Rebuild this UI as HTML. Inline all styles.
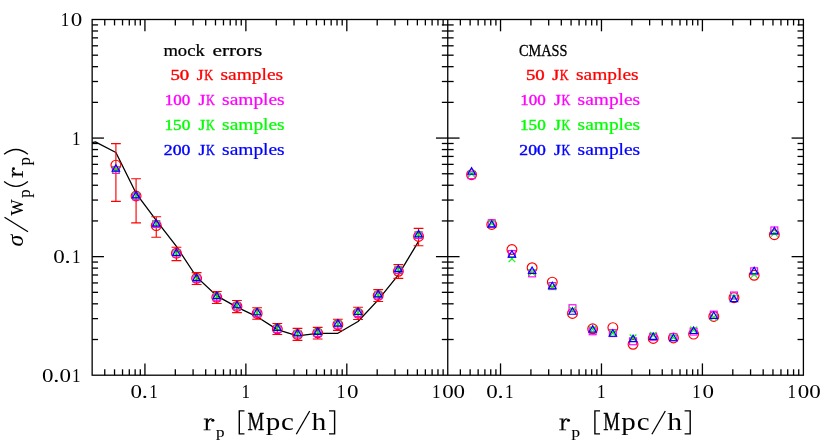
<!DOCTYPE html>
<html><head><meta charset="utf-8"><title>chart</title>
<style>html,body{margin:0;padding:0;background:#fff;}body{width:830px;height:443px;overflow:hidden;position:relative;font-family:"Liberation Serif",serif;}</style></head>
<body>
<svg width="830" height="443" viewBox="0 0 830 443" style="position:absolute;left:0;top:0;will-change:transform">
<rect width="830" height="443" fill="#fff"/>
<g stroke="#000" stroke-width="1.3" fill="none" stroke-linecap="butt">
<rect x="92.15" y="19.5" width="711.25" height="355.70"/>
<line x1="447.75" y1="19.5" x2="447.75" y2="375.2"/>
<line x1="104.76" y1="375.2" x2="104.76" y2="369.30"/>
<line x1="104.76" y1="19.5" x2="104.76" y2="25.40"/>
<line x1="114.54" y1="375.2" x2="114.54" y2="369.30"/>
<line x1="114.54" y1="19.5" x2="114.54" y2="25.40"/>
<line x1="122.54" y1="375.2" x2="122.54" y2="369.30"/>
<line x1="122.54" y1="19.5" x2="122.54" y2="25.40"/>
<line x1="129.29" y1="375.2" x2="129.29" y2="369.30"/>
<line x1="129.29" y1="19.5" x2="129.29" y2="25.40"/>
<line x1="135.15" y1="375.2" x2="135.15" y2="369.30"/>
<line x1="135.15" y1="19.5" x2="135.15" y2="25.40"/>
<line x1="140.31" y1="375.2" x2="140.31" y2="369.30"/>
<line x1="140.31" y1="19.5" x2="140.31" y2="25.40"/>
<line x1="144.93" y1="375.2" x2="144.93" y2="363.40"/>
<line x1="144.93" y1="19.5" x2="144.93" y2="31.30"/>
<line x1="175.32" y1="375.2" x2="175.32" y2="369.30"/>
<line x1="175.32" y1="19.5" x2="175.32" y2="25.40"/>
<line x1="193.09" y1="375.2" x2="193.09" y2="369.30"/>
<line x1="193.09" y1="19.5" x2="193.09" y2="25.40"/>
<line x1="205.70" y1="375.2" x2="205.70" y2="369.30"/>
<line x1="205.70" y1="19.5" x2="205.70" y2="25.40"/>
<line x1="215.48" y1="375.2" x2="215.48" y2="369.30"/>
<line x1="215.48" y1="19.5" x2="215.48" y2="25.40"/>
<line x1="223.48" y1="375.2" x2="223.48" y2="369.30"/>
<line x1="223.48" y1="19.5" x2="223.48" y2="25.40"/>
<line x1="230.23" y1="375.2" x2="230.23" y2="369.30"/>
<line x1="230.23" y1="19.5" x2="230.23" y2="25.40"/>
<line x1="236.09" y1="375.2" x2="236.09" y2="369.30"/>
<line x1="236.09" y1="19.5" x2="236.09" y2="25.40"/>
<line x1="241.25" y1="375.2" x2="241.25" y2="369.30"/>
<line x1="241.25" y1="19.5" x2="241.25" y2="25.40"/>
<line x1="245.87" y1="375.2" x2="245.87" y2="363.40"/>
<line x1="245.87" y1="19.5" x2="245.87" y2="31.30"/>
<line x1="276.26" y1="375.2" x2="276.26" y2="369.30"/>
<line x1="276.26" y1="19.5" x2="276.26" y2="25.40"/>
<line x1="294.03" y1="375.2" x2="294.03" y2="369.30"/>
<line x1="294.03" y1="19.5" x2="294.03" y2="25.40"/>
<line x1="306.64" y1="375.2" x2="306.64" y2="369.30"/>
<line x1="306.64" y1="19.5" x2="306.64" y2="25.40"/>
<line x1="316.42" y1="375.2" x2="316.42" y2="369.30"/>
<line x1="316.42" y1="19.5" x2="316.42" y2="25.40"/>
<line x1="324.42" y1="375.2" x2="324.42" y2="369.30"/>
<line x1="324.42" y1="19.5" x2="324.42" y2="25.40"/>
<line x1="331.17" y1="375.2" x2="331.17" y2="369.30"/>
<line x1="331.17" y1="19.5" x2="331.17" y2="25.40"/>
<line x1="337.03" y1="375.2" x2="337.03" y2="369.30"/>
<line x1="337.03" y1="19.5" x2="337.03" y2="25.40"/>
<line x1="342.19" y1="375.2" x2="342.19" y2="369.30"/>
<line x1="342.19" y1="19.5" x2="342.19" y2="25.40"/>
<line x1="346.81" y1="375.2" x2="346.81" y2="363.40"/>
<line x1="346.81" y1="19.5" x2="346.81" y2="31.30"/>
<line x1="377.20" y1="375.2" x2="377.20" y2="369.30"/>
<line x1="377.20" y1="19.5" x2="377.20" y2="25.40"/>
<line x1="394.97" y1="375.2" x2="394.97" y2="369.30"/>
<line x1="394.97" y1="19.5" x2="394.97" y2="25.40"/>
<line x1="407.58" y1="375.2" x2="407.58" y2="369.30"/>
<line x1="407.58" y1="19.5" x2="407.58" y2="25.40"/>
<line x1="417.36" y1="375.2" x2="417.36" y2="369.30"/>
<line x1="417.36" y1="19.5" x2="417.36" y2="25.40"/>
<line x1="425.36" y1="375.2" x2="425.36" y2="369.30"/>
<line x1="425.36" y1="19.5" x2="425.36" y2="25.40"/>
<line x1="432.11" y1="375.2" x2="432.11" y2="369.30"/>
<line x1="432.11" y1="19.5" x2="432.11" y2="25.40"/>
<line x1="437.97" y1="375.2" x2="437.97" y2="369.30"/>
<line x1="437.97" y1="19.5" x2="437.97" y2="25.40"/>
<line x1="443.13" y1="375.2" x2="443.13" y2="369.30"/>
<line x1="443.13" y1="19.5" x2="443.13" y2="25.40"/>
<line x1="460.36" y1="375.2" x2="460.36" y2="369.30"/>
<line x1="460.36" y1="19.5" x2="460.36" y2="25.40"/>
<line x1="470.14" y1="375.2" x2="470.14" y2="369.30"/>
<line x1="470.14" y1="19.5" x2="470.14" y2="25.40"/>
<line x1="478.14" y1="375.2" x2="478.14" y2="369.30"/>
<line x1="478.14" y1="19.5" x2="478.14" y2="25.40"/>
<line x1="484.89" y1="375.2" x2="484.89" y2="369.30"/>
<line x1="484.89" y1="19.5" x2="484.89" y2="25.40"/>
<line x1="490.75" y1="375.2" x2="490.75" y2="369.30"/>
<line x1="490.75" y1="19.5" x2="490.75" y2="25.40"/>
<line x1="495.91" y1="375.2" x2="495.91" y2="369.30"/>
<line x1="495.91" y1="19.5" x2="495.91" y2="25.40"/>
<line x1="500.53" y1="375.2" x2="500.53" y2="363.40"/>
<line x1="500.53" y1="19.5" x2="500.53" y2="31.30"/>
<line x1="530.92" y1="375.2" x2="530.92" y2="369.30"/>
<line x1="530.92" y1="19.5" x2="530.92" y2="25.40"/>
<line x1="548.69" y1="375.2" x2="548.69" y2="369.30"/>
<line x1="548.69" y1="19.5" x2="548.69" y2="25.40"/>
<line x1="561.30" y1="375.2" x2="561.30" y2="369.30"/>
<line x1="561.30" y1="19.5" x2="561.30" y2="25.40"/>
<line x1="571.08" y1="375.2" x2="571.08" y2="369.30"/>
<line x1="571.08" y1="19.5" x2="571.08" y2="25.40"/>
<line x1="579.08" y1="375.2" x2="579.08" y2="369.30"/>
<line x1="579.08" y1="19.5" x2="579.08" y2="25.40"/>
<line x1="585.83" y1="375.2" x2="585.83" y2="369.30"/>
<line x1="585.83" y1="19.5" x2="585.83" y2="25.40"/>
<line x1="591.69" y1="375.2" x2="591.69" y2="369.30"/>
<line x1="591.69" y1="19.5" x2="591.69" y2="25.40"/>
<line x1="596.85" y1="375.2" x2="596.85" y2="369.30"/>
<line x1="596.85" y1="19.5" x2="596.85" y2="25.40"/>
<line x1="601.47" y1="375.2" x2="601.47" y2="363.40"/>
<line x1="601.47" y1="19.5" x2="601.47" y2="31.30"/>
<line x1="631.86" y1="375.2" x2="631.86" y2="369.30"/>
<line x1="631.86" y1="19.5" x2="631.86" y2="25.40"/>
<line x1="649.63" y1="375.2" x2="649.63" y2="369.30"/>
<line x1="649.63" y1="19.5" x2="649.63" y2="25.40"/>
<line x1="662.24" y1="375.2" x2="662.24" y2="369.30"/>
<line x1="662.24" y1="19.5" x2="662.24" y2="25.40"/>
<line x1="672.02" y1="375.2" x2="672.02" y2="369.30"/>
<line x1="672.02" y1="19.5" x2="672.02" y2="25.40"/>
<line x1="680.02" y1="375.2" x2="680.02" y2="369.30"/>
<line x1="680.02" y1="19.5" x2="680.02" y2="25.40"/>
<line x1="686.77" y1="375.2" x2="686.77" y2="369.30"/>
<line x1="686.77" y1="19.5" x2="686.77" y2="25.40"/>
<line x1="692.63" y1="375.2" x2="692.63" y2="369.30"/>
<line x1="692.63" y1="19.5" x2="692.63" y2="25.40"/>
<line x1="697.79" y1="375.2" x2="697.79" y2="369.30"/>
<line x1="697.79" y1="19.5" x2="697.79" y2="25.40"/>
<line x1="702.41" y1="375.2" x2="702.41" y2="363.40"/>
<line x1="702.41" y1="19.5" x2="702.41" y2="31.30"/>
<line x1="732.80" y1="375.2" x2="732.80" y2="369.30"/>
<line x1="732.80" y1="19.5" x2="732.80" y2="25.40"/>
<line x1="750.57" y1="375.2" x2="750.57" y2="369.30"/>
<line x1="750.57" y1="19.5" x2="750.57" y2="25.40"/>
<line x1="763.18" y1="375.2" x2="763.18" y2="369.30"/>
<line x1="763.18" y1="19.5" x2="763.18" y2="25.40"/>
<line x1="772.96" y1="375.2" x2="772.96" y2="369.30"/>
<line x1="772.96" y1="19.5" x2="772.96" y2="25.40"/>
<line x1="780.96" y1="375.2" x2="780.96" y2="369.30"/>
<line x1="780.96" y1="19.5" x2="780.96" y2="25.40"/>
<line x1="787.71" y1="375.2" x2="787.71" y2="369.30"/>
<line x1="787.71" y1="19.5" x2="787.71" y2="25.40"/>
<line x1="793.57" y1="375.2" x2="793.57" y2="369.30"/>
<line x1="793.57" y1="19.5" x2="793.57" y2="25.40"/>
<line x1="798.73" y1="375.2" x2="798.73" y2="369.30"/>
<line x1="798.73" y1="19.5" x2="798.73" y2="25.40"/>
<line x1="92.15" y1="339.51" x2="98.05" y2="339.51"/>
<line x1="92.15" y1="318.63" x2="98.05" y2="318.63"/>
<line x1="92.15" y1="303.82" x2="98.05" y2="303.82"/>
<line x1="92.15" y1="292.33" x2="98.05" y2="292.33"/>
<line x1="92.15" y1="282.94" x2="98.05" y2="282.94"/>
<line x1="92.15" y1="275.00" x2="98.05" y2="275.00"/>
<line x1="92.15" y1="268.12" x2="98.05" y2="268.12"/>
<line x1="92.15" y1="262.06" x2="98.05" y2="262.06"/>
<line x1="92.15" y1="256.63" x2="103.95" y2="256.63"/>
<line x1="92.15" y1="220.94" x2="98.05" y2="220.94"/>
<line x1="92.15" y1="200.06" x2="98.05" y2="200.06"/>
<line x1="92.15" y1="185.25" x2="98.05" y2="185.25"/>
<line x1="92.15" y1="173.76" x2="98.05" y2="173.76"/>
<line x1="92.15" y1="164.37" x2="98.05" y2="164.37"/>
<line x1="92.15" y1="156.43" x2="98.05" y2="156.43"/>
<line x1="92.15" y1="149.56" x2="98.05" y2="149.56"/>
<line x1="92.15" y1="143.49" x2="98.05" y2="143.49"/>
<line x1="92.15" y1="138.07" x2="103.95" y2="138.07"/>
<line x1="92.15" y1="102.37" x2="98.05" y2="102.37"/>
<line x1="92.15" y1="81.50" x2="98.05" y2="81.50"/>
<line x1="92.15" y1="66.68" x2="98.05" y2="66.68"/>
<line x1="92.15" y1="55.19" x2="98.05" y2="55.19"/>
<line x1="92.15" y1="45.80" x2="98.05" y2="45.80"/>
<line x1="92.15" y1="37.87" x2="98.05" y2="37.87"/>
<line x1="92.15" y1="30.99" x2="98.05" y2="30.99"/>
<line x1="92.15" y1="24.93" x2="98.05" y2="24.93"/>
<line x1="447.75" y1="339.51" x2="441.85" y2="339.51"/>
<line x1="447.75" y1="339.51" x2="453.65" y2="339.51"/>
<line x1="447.75" y1="318.63" x2="441.85" y2="318.63"/>
<line x1="447.75" y1="318.63" x2="453.65" y2="318.63"/>
<line x1="447.75" y1="303.82" x2="441.85" y2="303.82"/>
<line x1="447.75" y1="303.82" x2="453.65" y2="303.82"/>
<line x1="447.75" y1="292.33" x2="441.85" y2="292.33"/>
<line x1="447.75" y1="292.33" x2="453.65" y2="292.33"/>
<line x1="447.75" y1="282.94" x2="441.85" y2="282.94"/>
<line x1="447.75" y1="282.94" x2="453.65" y2="282.94"/>
<line x1="447.75" y1="275.00" x2="441.85" y2="275.00"/>
<line x1="447.75" y1="275.00" x2="453.65" y2="275.00"/>
<line x1="447.75" y1="268.12" x2="441.85" y2="268.12"/>
<line x1="447.75" y1="268.12" x2="453.65" y2="268.12"/>
<line x1="447.75" y1="262.06" x2="441.85" y2="262.06"/>
<line x1="447.75" y1="262.06" x2="453.65" y2="262.06"/>
<line x1="447.75" y1="256.63" x2="435.95" y2="256.63"/>
<line x1="447.75" y1="256.63" x2="459.55" y2="256.63"/>
<line x1="447.75" y1="220.94" x2="441.85" y2="220.94"/>
<line x1="447.75" y1="220.94" x2="453.65" y2="220.94"/>
<line x1="447.75" y1="200.06" x2="441.85" y2="200.06"/>
<line x1="447.75" y1="200.06" x2="453.65" y2="200.06"/>
<line x1="447.75" y1="185.25" x2="441.85" y2="185.25"/>
<line x1="447.75" y1="185.25" x2="453.65" y2="185.25"/>
<line x1="447.75" y1="173.76" x2="441.85" y2="173.76"/>
<line x1="447.75" y1="173.76" x2="453.65" y2="173.76"/>
<line x1="447.75" y1="164.37" x2="441.85" y2="164.37"/>
<line x1="447.75" y1="164.37" x2="453.65" y2="164.37"/>
<line x1="447.75" y1="156.43" x2="441.85" y2="156.43"/>
<line x1="447.75" y1="156.43" x2="453.65" y2="156.43"/>
<line x1="447.75" y1="149.56" x2="441.85" y2="149.56"/>
<line x1="447.75" y1="149.56" x2="453.65" y2="149.56"/>
<line x1="447.75" y1="143.49" x2="441.85" y2="143.49"/>
<line x1="447.75" y1="143.49" x2="453.65" y2="143.49"/>
<line x1="447.75" y1="138.07" x2="435.95" y2="138.07"/>
<line x1="447.75" y1="138.07" x2="459.55" y2="138.07"/>
<line x1="447.75" y1="102.37" x2="441.85" y2="102.37"/>
<line x1="447.75" y1="102.37" x2="453.65" y2="102.37"/>
<line x1="447.75" y1="81.50" x2="441.85" y2="81.50"/>
<line x1="447.75" y1="81.50" x2="453.65" y2="81.50"/>
<line x1="447.75" y1="66.68" x2="441.85" y2="66.68"/>
<line x1="447.75" y1="66.68" x2="453.65" y2="66.68"/>
<line x1="447.75" y1="55.19" x2="441.85" y2="55.19"/>
<line x1="447.75" y1="55.19" x2="453.65" y2="55.19"/>
<line x1="447.75" y1="45.80" x2="441.85" y2="45.80"/>
<line x1="447.75" y1="45.80" x2="453.65" y2="45.80"/>
<line x1="447.75" y1="37.87" x2="441.85" y2="37.87"/>
<line x1="447.75" y1="37.87" x2="453.65" y2="37.87"/>
<line x1="447.75" y1="30.99" x2="441.85" y2="30.99"/>
<line x1="447.75" y1="30.99" x2="453.65" y2="30.99"/>
<line x1="447.75" y1="24.93" x2="441.85" y2="24.93"/>
<line x1="447.75" y1="24.93" x2="453.65" y2="24.93"/>
<line x1="803.4" y1="339.51" x2="797.50" y2="339.51"/>
<line x1="803.4" y1="318.63" x2="797.50" y2="318.63"/>
<line x1="803.4" y1="303.82" x2="797.50" y2="303.82"/>
<line x1="803.4" y1="292.33" x2="797.50" y2="292.33"/>
<line x1="803.4" y1="282.94" x2="797.50" y2="282.94"/>
<line x1="803.4" y1="275.00" x2="797.50" y2="275.00"/>
<line x1="803.4" y1="268.12" x2="797.50" y2="268.12"/>
<line x1="803.4" y1="262.06" x2="797.50" y2="262.06"/>
<line x1="803.4" y1="256.63" x2="791.60" y2="256.63"/>
<line x1="803.4" y1="220.94" x2="797.50" y2="220.94"/>
<line x1="803.4" y1="200.06" x2="797.50" y2="200.06"/>
<line x1="803.4" y1="185.25" x2="797.50" y2="185.25"/>
<line x1="803.4" y1="173.76" x2="797.50" y2="173.76"/>
<line x1="803.4" y1="164.37" x2="797.50" y2="164.37"/>
<line x1="803.4" y1="156.43" x2="797.50" y2="156.43"/>
<line x1="803.4" y1="149.56" x2="797.50" y2="149.56"/>
<line x1="803.4" y1="143.49" x2="797.50" y2="143.49"/>
<line x1="803.4" y1="138.07" x2="791.60" y2="138.07"/>
<line x1="803.4" y1="102.37" x2="797.50" y2="102.37"/>
<line x1="803.4" y1="81.50" x2="797.50" y2="81.50"/>
<line x1="803.4" y1="66.68" x2="797.50" y2="66.68"/>
<line x1="803.4" y1="55.19" x2="797.50" y2="55.19"/>
<line x1="803.4" y1="45.80" x2="797.50" y2="45.80"/>
<line x1="803.4" y1="37.87" x2="797.50" y2="37.87"/>
<line x1="803.4" y1="30.99" x2="797.50" y2="30.99"/>
<line x1="803.4" y1="24.93" x2="797.50" y2="24.93"/>
</g>
<polyline fill="none" stroke="#000" stroke-width="1.3" stroke-linejoin="round" points="92.15,142.70 95.40,141.80 115.90,152.50 136.08,193.30 156.25,220.40 176.43,246.40 196.61,277.00 216.78,295.90 236.96,307.10 257.14,316.80 277.32,329.60 297.49,335.90 317.67,333.40 337.85,333.30 358.02,321.50 378.20,299.90 398.38,274.80 418.55,241.40"/>
<path d="M115.90 143.55L115.90 201.30M111.00 143.55L120.80 143.55M111.00 201.30L120.80 201.30" fill="none" stroke="#f00" stroke-width="1.15"/>
<path d="M136.08 178.70L136.08 222.90M131.18 178.70L140.98 178.70M131.18 222.90L140.98 222.90" fill="none" stroke="#f00" stroke-width="1.15"/>
<path d="M156.25 216.70L156.25 237.20M151.35 216.70L161.15 216.70M151.35 237.20L161.15 237.20" fill="none" stroke="#f00" stroke-width="1.15"/>
<path d="M176.43 247.20L176.43 260.60M171.53 247.20L181.33 247.20M171.53 260.60L181.33 260.60" fill="none" stroke="#f00" stroke-width="1.15"/>
<path d="M196.61 272.60L196.61 284.50M191.71 272.60L201.51 272.60M191.71 284.50L201.51 284.50" fill="none" stroke="#f00" stroke-width="1.15"/>
<path d="M216.78 291.50L216.78 303.50M211.88 291.50L221.69 291.50M211.88 303.50L221.69 303.50" fill="none" stroke="#f00" stroke-width="1.15"/>
<path d="M236.96 300.50L236.96 312.60M232.06 300.50L241.86 300.50M232.06 312.60L241.86 312.60" fill="none" stroke="#f00" stroke-width="1.15"/>
<path d="M257.14 307.70L257.14 319.20M252.24 307.70L262.04 307.70M252.24 319.20L262.04 319.20" fill="none" stroke="#f00" stroke-width="1.15"/>
<path d="M277.32 323.50L277.32 334.50M272.42 323.50L282.22 323.50M272.42 334.50L282.22 334.50" fill="none" stroke="#f00" stroke-width="1.15"/>
<path d="M297.49 328.40L297.49 340.30M292.59 328.40L302.39 328.40M292.59 340.30L302.39 340.30" fill="none" stroke="#f00" stroke-width="1.15"/>
<path d="M317.67 327.40L317.67 339.00M312.77 327.40L322.57 327.40M312.77 339.00L322.57 339.00" fill="none" stroke="#f00" stroke-width="1.15"/>
<path d="M337.85 319.20L337.85 330.30M332.95 319.20L342.75 319.20M332.95 330.30L342.75 330.30" fill="none" stroke="#f00" stroke-width="1.15"/>
<path d="M358.02 307.20L358.02 319.50M353.12 307.20L362.92 307.20M353.12 319.50L362.92 319.50" fill="none" stroke="#f00" stroke-width="1.15"/>
<path d="M378.20 289.60L378.20 301.50M373.30 289.60L383.10 289.60M373.30 301.50L383.10 301.50" fill="none" stroke="#f00" stroke-width="1.15"/>
<path d="M398.38 264.60L398.38 278.40M393.48 264.60L403.28 264.60M393.48 278.40L403.28 278.40" fill="none" stroke="#f00" stroke-width="1.15"/>
<path d="M418.55 228.35L418.55 245.70M413.65 228.35L423.45 228.35M413.65 245.70L423.45 245.70" fill="none" stroke="#f00" stroke-width="1.15"/>
<circle cx="115.90" cy="165.10" r="4.9" fill="none" stroke="#f00" stroke-width="1.15"/>
<circle cx="136.08" cy="196.00" r="4.9" fill="none" stroke="#f00" stroke-width="1.15"/>
<circle cx="156.25" cy="225.60" r="4.9" fill="none" stroke="#f00" stroke-width="1.15"/>
<circle cx="176.43" cy="253.20" r="4.9" fill="none" stroke="#f00" stroke-width="1.15"/>
<circle cx="196.61" cy="278.30" r="4.9" fill="none" stroke="#f00" stroke-width="1.15"/>
<circle cx="216.78" cy="297.30" r="4.9" fill="none" stroke="#f00" stroke-width="1.15"/>
<circle cx="236.96" cy="306.40" r="4.9" fill="none" stroke="#f00" stroke-width="1.15"/>
<circle cx="257.14" cy="313.40" r="4.9" fill="none" stroke="#f00" stroke-width="1.15"/>
<circle cx="277.32" cy="329.00" r="4.9" fill="none" stroke="#f00" stroke-width="1.15"/>
<circle cx="297.49" cy="334.40" r="4.9" fill="none" stroke="#f00" stroke-width="1.15"/>
<circle cx="317.67" cy="333.00" r="4.9" fill="none" stroke="#f00" stroke-width="1.15"/>
<circle cx="337.85" cy="324.70" r="4.9" fill="none" stroke="#f00" stroke-width="1.15"/>
<circle cx="358.02" cy="313.10" r="4.9" fill="none" stroke="#f00" stroke-width="1.15"/>
<circle cx="378.20" cy="295.50" r="4.9" fill="none" stroke="#f00" stroke-width="1.15"/>
<circle cx="398.38" cy="271.30" r="4.9" fill="none" stroke="#f00" stroke-width="1.15"/>
<circle cx="418.55" cy="236.40" r="4.9" fill="none" stroke="#f00" stroke-width="1.15"/>
<rect x="112.45" y="166.45" width="6.90" height="6.90" fill="none" stroke="#f0f" stroke-width="1.15"/>
<rect x="132.63" y="192.85" width="6.90" height="6.90" fill="none" stroke="#f0f" stroke-width="1.15"/>
<rect x="152.80" y="220.55" width="6.90" height="6.90" fill="none" stroke="#f0f" stroke-width="1.15"/>
<rect x="172.98" y="250.05" width="6.90" height="6.90" fill="none" stroke="#f0f" stroke-width="1.15"/>
<rect x="193.16" y="275.15" width="6.90" height="6.90" fill="none" stroke="#f0f" stroke-width="1.15"/>
<rect x="213.34" y="293.85" width="6.90" height="6.90" fill="none" stroke="#f0f" stroke-width="1.15"/>
<rect x="233.51" y="302.95" width="6.90" height="6.90" fill="none" stroke="#f0f" stroke-width="1.15"/>
<rect x="253.69" y="309.95" width="6.90" height="6.90" fill="none" stroke="#f0f" stroke-width="1.15"/>
<rect x="273.87" y="325.55" width="6.90" height="6.90" fill="none" stroke="#f0f" stroke-width="1.15"/>
<rect x="294.04" y="330.95" width="6.90" height="6.90" fill="none" stroke="#f0f" stroke-width="1.15"/>
<rect x="314.22" y="329.55" width="6.90" height="6.90" fill="none" stroke="#f0f" stroke-width="1.15"/>
<rect x="334.40" y="321.25" width="6.90" height="6.90" fill="none" stroke="#f0f" stroke-width="1.15"/>
<rect x="354.57" y="309.65" width="6.90" height="6.90" fill="none" stroke="#f0f" stroke-width="1.15"/>
<rect x="374.75" y="292.05" width="6.90" height="6.90" fill="none" stroke="#f0f" stroke-width="1.15"/>
<rect x="394.93" y="266.65" width="6.90" height="6.90" fill="none" stroke="#f0f" stroke-width="1.15"/>
<rect x="415.10" y="231.55" width="6.90" height="6.90" fill="none" stroke="#f0f" stroke-width="1.15"/>
<path d="M112.55 166.25L119.25 172.95M112.55 172.95L119.25 166.25" fill="none" stroke="#0f0" stroke-width="1.15"/>
<path d="M132.73 192.65L139.43 199.35M132.73 199.35L139.43 192.65" fill="none" stroke="#0f0" stroke-width="1.15"/>
<path d="M152.90 220.45L159.60 227.15M152.90 227.15L159.60 220.45" fill="none" stroke="#0f0" stroke-width="1.15"/>
<path d="M173.08 249.85L179.78 256.55M173.08 256.55L179.78 249.85" fill="none" stroke="#0f0" stroke-width="1.15"/>
<path d="M193.26 274.95L199.96 281.65M193.26 281.65L199.96 274.95" fill="none" stroke="#0f0" stroke-width="1.15"/>
<path d="M213.44 293.25L220.13 299.95M213.44 299.95L220.13 293.25" fill="none" stroke="#0f0" stroke-width="1.15"/>
<path d="M233.61 302.35L240.31 309.05M233.61 309.05L240.31 302.35" fill="none" stroke="#0f0" stroke-width="1.15"/>
<path d="M253.79 309.35L260.49 316.05M253.79 316.05L260.49 309.35" fill="none" stroke="#0f0" stroke-width="1.15"/>
<path d="M273.97 324.95L280.67 331.65M273.97 331.65L280.67 324.95" fill="none" stroke="#0f0" stroke-width="1.15"/>
<path d="M294.14 330.35L300.84 337.05M294.14 337.05L300.84 330.35" fill="none" stroke="#0f0" stroke-width="1.15"/>
<path d="M314.32 328.95L321.02 335.65M314.32 335.65L321.02 328.95" fill="none" stroke="#0f0" stroke-width="1.15"/>
<path d="M334.50 320.65L341.20 327.35M334.50 327.35L341.20 320.65" fill="none" stroke="#0f0" stroke-width="1.15"/>
<path d="M354.67 309.05L361.37 315.75M354.67 315.75L361.37 309.05" fill="none" stroke="#0f0" stroke-width="1.15"/>
<path d="M374.85 291.45L381.55 298.15M374.85 298.15L381.55 291.45" fill="none" stroke="#0f0" stroke-width="1.15"/>
<path d="M395.03 266.05L401.73 272.75M395.03 272.75L401.73 266.05" fill="none" stroke="#0f0" stroke-width="1.15"/>
<path d="M415.20 231.25L421.90 237.95M415.20 237.95L421.90 231.25" fill="none" stroke="#0f0" stroke-width="1.15"/>
<path d="M115.90 164.70L119.62 171.15L112.18 171.15Z" fill="none" stroke="#00f" stroke-width="1.15" stroke-linejoin="miter"/>
<path d="M136.08 191.40L139.80 197.85L132.35 197.85Z" fill="none" stroke="#00f" stroke-width="1.15" stroke-linejoin="miter"/>
<path d="M156.25 219.70L159.98 226.15L152.53 226.15Z" fill="none" stroke="#00f" stroke-width="1.15" stroke-linejoin="miter"/>
<path d="M176.43 249.00L180.15 255.45L172.71 255.45Z" fill="none" stroke="#00f" stroke-width="1.15" stroke-linejoin="miter"/>
<path d="M196.61 274.10L200.33 280.55L192.88 280.55Z" fill="none" stroke="#00f" stroke-width="1.15" stroke-linejoin="miter"/>
<path d="M216.78 292.20L220.51 298.65L213.06 298.65Z" fill="none" stroke="#00f" stroke-width="1.15" stroke-linejoin="miter"/>
<path d="M236.96 301.30L240.69 307.75L233.24 307.75Z" fill="none" stroke="#00f" stroke-width="1.15" stroke-linejoin="miter"/>
<path d="M257.14 308.30L260.86 314.75L253.42 314.75Z" fill="none" stroke="#00f" stroke-width="1.15" stroke-linejoin="miter"/>
<path d="M277.32 323.90L281.04 330.35L273.59 330.35Z" fill="none" stroke="#00f" stroke-width="1.15" stroke-linejoin="miter"/>
<path d="M297.49 329.30L301.22 335.75L293.77 335.75Z" fill="none" stroke="#00f" stroke-width="1.15" stroke-linejoin="miter"/>
<path d="M317.67 327.90L321.39 334.35L313.95 334.35Z" fill="none" stroke="#00f" stroke-width="1.15" stroke-linejoin="miter"/>
<path d="M337.85 319.60L341.57 326.05L334.12 326.05Z" fill="none" stroke="#00f" stroke-width="1.15" stroke-linejoin="miter"/>
<path d="M358.02 308.00L361.75 314.45L354.30 314.45Z" fill="none" stroke="#00f" stroke-width="1.15" stroke-linejoin="miter"/>
<path d="M378.20 290.40L381.92 296.85L374.48 296.85Z" fill="none" stroke="#00f" stroke-width="1.15" stroke-linejoin="miter"/>
<path d="M398.38 265.20L402.10 271.65L394.65 271.65Z" fill="none" stroke="#00f" stroke-width="1.15" stroke-linejoin="miter"/>
<path d="M418.55 230.40L422.28 236.85L414.83 236.85Z" fill="none" stroke="#00f" stroke-width="1.15" stroke-linejoin="miter"/>
<circle cx="471.55" cy="174.65" r="4.9" fill="none" stroke="#f00" stroke-width="1.15"/>
<circle cx="491.74" cy="224.50" r="4.9" fill="none" stroke="#f00" stroke-width="1.15"/>
<circle cx="511.92" cy="249.50" r="4.9" fill="none" stroke="#f00" stroke-width="1.15"/>
<circle cx="532.11" cy="267.70" r="4.9" fill="none" stroke="#f00" stroke-width="1.15"/>
<circle cx="552.30" cy="282.10" r="4.9" fill="none" stroke="#f00" stroke-width="1.15"/>
<circle cx="572.49" cy="313.40" r="4.9" fill="none" stroke="#f00" stroke-width="1.15"/>
<circle cx="592.67" cy="328.80" r="4.9" fill="none" stroke="#f00" stroke-width="1.15"/>
<circle cx="612.86" cy="327.60" r="4.9" fill="none" stroke="#f00" stroke-width="1.15"/>
<circle cx="633.05" cy="344.30" r="4.9" fill="none" stroke="#f00" stroke-width="1.15"/>
<circle cx="653.23" cy="338.40" r="4.9" fill="none" stroke="#f00" stroke-width="1.15"/>
<circle cx="673.42" cy="337.90" r="4.9" fill="none" stroke="#f00" stroke-width="1.15"/>
<circle cx="693.61" cy="334.10" r="4.9" fill="none" stroke="#f00" stroke-width="1.15"/>
<circle cx="713.79" cy="316.45" r="4.9" fill="none" stroke="#f00" stroke-width="1.15"/>
<circle cx="733.98" cy="297.65" r="4.9" fill="none" stroke="#f00" stroke-width="1.15"/>
<circle cx="754.17" cy="275.30" r="4.9" fill="none" stroke="#f00" stroke-width="1.15"/>
<circle cx="774.36" cy="234.70" r="4.9" fill="none" stroke="#f00" stroke-width="1.15"/>
<rect x="468.10" y="171.75" width="6.90" height="6.90" fill="none" stroke="#f0f" stroke-width="1.15"/>
<rect x="488.29" y="219.75" width="6.90" height="6.90" fill="none" stroke="#f0f" stroke-width="1.15"/>
<rect x="508.47" y="250.55" width="6.90" height="6.90" fill="none" stroke="#f0f" stroke-width="1.15"/>
<rect x="528.66" y="269.95" width="6.90" height="6.90" fill="none" stroke="#f0f" stroke-width="1.15"/>
<rect x="548.85" y="282.60" width="6.90" height="6.90" fill="none" stroke="#f0f" stroke-width="1.15"/>
<rect x="569.03" y="304.75" width="6.90" height="6.90" fill="none" stroke="#f0f" stroke-width="1.15"/>
<rect x="589.22" y="327.85" width="6.90" height="6.90" fill="none" stroke="#f0f" stroke-width="1.15"/>
<rect x="609.41" y="329.65" width="6.90" height="6.90" fill="none" stroke="#f0f" stroke-width="1.15"/>
<rect x="629.60" y="337.85" width="6.90" height="6.90" fill="none" stroke="#f0f" stroke-width="1.15"/>
<rect x="649.78" y="333.35" width="6.90" height="6.90" fill="none" stroke="#f0f" stroke-width="1.15"/>
<rect x="669.97" y="333.75" width="6.90" height="6.90" fill="none" stroke="#f0f" stroke-width="1.15"/>
<rect x="690.16" y="328.15" width="6.90" height="6.90" fill="none" stroke="#f0f" stroke-width="1.15"/>
<rect x="710.34" y="311.15" width="6.90" height="6.90" fill="none" stroke="#f0f" stroke-width="1.15"/>
<rect x="730.53" y="292.05" width="6.90" height="6.90" fill="none" stroke="#f0f" stroke-width="1.15"/>
<rect x="750.72" y="267.85" width="6.90" height="6.90" fill="none" stroke="#f0f" stroke-width="1.15"/>
<rect x="770.90" y="227.00" width="6.90" height="6.90" fill="none" stroke="#f0f" stroke-width="1.15"/>
<path d="M468.20 170.40L474.90 177.10M468.20 177.10L474.90 170.40" fill="none" stroke="#0f0" stroke-width="1.15"/>
<path d="M488.39 220.05L495.09 226.75M488.39 226.75L495.09 220.05" fill="none" stroke="#0f0" stroke-width="1.15"/>
<path d="M508.57 255.35L515.27 262.05M508.57 262.05L515.27 255.35" fill="none" stroke="#0f0" stroke-width="1.15"/>
<path d="M528.76 269.25L535.46 275.95M528.76 275.95L535.46 269.25" fill="none" stroke="#0f0" stroke-width="1.15"/>
<path d="M548.95 283.50L555.65 290.20M548.95 290.20L555.65 283.50" fill="none" stroke="#0f0" stroke-width="1.15"/>
<path d="M569.13 306.60L575.84 313.30M569.13 313.30L575.84 306.60" fill="none" stroke="#0f0" stroke-width="1.15"/>
<path d="M589.32 325.85L596.02 332.55M589.32 332.55L596.02 325.85" fill="none" stroke="#0f0" stroke-width="1.15"/>
<path d="M609.51 329.75L616.21 336.45M609.51 336.45L616.21 329.75" fill="none" stroke="#0f0" stroke-width="1.15"/>
<path d="M629.70 334.50L636.40 341.20M629.70 341.20L636.40 334.50" fill="none" stroke="#0f0" stroke-width="1.15"/>
<path d="M649.88 331.95L656.58 338.65M649.88 338.65L656.58 331.95" fill="none" stroke="#0f0" stroke-width="1.15"/>
<path d="M670.07 334.05L676.77 340.75M670.07 340.75L676.77 334.05" fill="none" stroke="#0f0" stroke-width="1.15"/>
<path d="M690.26 326.60L696.96 333.30M690.26 333.30L696.96 326.60" fill="none" stroke="#0f0" stroke-width="1.15"/>
<path d="M710.44 313.85L717.14 320.55M710.44 320.55L717.14 313.85" fill="none" stroke="#0f0" stroke-width="1.15"/>
<path d="M730.63 293.95L737.33 300.65M730.63 300.65L737.33 293.95" fill="none" stroke="#0f0" stroke-width="1.15"/>
<path d="M750.82 271.20L757.52 277.90M750.82 277.90L757.52 271.20" fill="none" stroke="#0f0" stroke-width="1.15"/>
<path d="M771.00 229.85L777.71 236.55M771.00 236.55L777.71 229.85" fill="none" stroke="#0f0" stroke-width="1.15"/>
<path d="M471.55 167.65L475.27 174.10L467.83 174.10Z" fill="none" stroke="#00f" stroke-width="1.15" stroke-linejoin="miter"/>
<path d="M491.74 220.65L495.46 227.10L488.01 227.10Z" fill="none" stroke="#00f" stroke-width="1.15" stroke-linejoin="miter"/>
<path d="M511.92 250.65L515.65 257.10L508.20 257.10Z" fill="none" stroke="#00f" stroke-width="1.15" stroke-linejoin="miter"/>
<path d="M532.11 267.00L535.83 273.45L528.39 273.45Z" fill="none" stroke="#00f" stroke-width="1.15" stroke-linejoin="miter"/>
<path d="M552.30 282.25L556.02 288.70L548.57 288.70Z" fill="none" stroke="#00f" stroke-width="1.15" stroke-linejoin="miter"/>
<path d="M572.49 307.75L576.21 314.20L568.76 314.20Z" fill="none" stroke="#00f" stroke-width="1.15" stroke-linejoin="miter"/>
<path d="M592.67 325.65L596.40 332.10L588.95 332.10Z" fill="none" stroke="#00f" stroke-width="1.15" stroke-linejoin="miter"/>
<path d="M612.86 329.75L616.58 336.20L609.14 336.20Z" fill="none" stroke="#00f" stroke-width="1.15" stroke-linejoin="miter"/>
<path d="M633.05 335.15L636.77 341.60L629.32 341.60Z" fill="none" stroke="#00f" stroke-width="1.15" stroke-linejoin="miter"/>
<path d="M653.23 332.95L656.96 339.40L649.51 339.40Z" fill="none" stroke="#00f" stroke-width="1.15" stroke-linejoin="miter"/>
<path d="M673.42 334.25L677.14 340.70L669.70 340.70Z" fill="none" stroke="#00f" stroke-width="1.15" stroke-linejoin="miter"/>
<path d="M693.61 327.00L697.33 333.45L689.88 333.45Z" fill="none" stroke="#00f" stroke-width="1.15" stroke-linejoin="miter"/>
<path d="M713.79 312.00L717.52 318.45L710.07 318.45Z" fill="none" stroke="#00f" stroke-width="1.15" stroke-linejoin="miter"/>
<path d="M733.98 295.20L737.70 301.65L730.26 301.65Z" fill="none" stroke="#00f" stroke-width="1.15" stroke-linejoin="miter"/>
<path d="M754.17 267.25L757.89 273.70L750.44 273.70Z" fill="none" stroke="#00f" stroke-width="1.15" stroke-linejoin="miter"/>
<path d="M774.36 227.35L778.08 233.80L770.63 233.80Z" fill="none" stroke="#00f" stroke-width="1.15" stroke-linejoin="miter"/>
<g font-family="'Liberation Serif', serif">
<text transform="translate(60.65,26.30) scale(0.8608,1.0000)" font-size="19.8" fill="#000"  >1</text>
<text transform="translate(70.87,26.30) scale(1.1618,1.0000)" font-size="19.8" fill="#000"  >0</text>
<text transform="translate(72.00,144.87) scale(0.8608,1.0000)" font-size="19.8" fill="#000"  >1</text>
<text transform="translate(53.32,263.43) scale(1.1618,1.0000)" font-size="19.8" fill="#000"  >0</text>
<text transform="translate(64.58,263.43) scale(1.2395,1.0000)" font-size="19.8" fill="#000"  >.</text>
<text transform="translate(72.00,263.43) scale(0.8608,1.0000)" font-size="19.8" fill="#000"  >1</text>
<text transform="translate(41.97,382.00) scale(1.1618,1.0000)" font-size="19.8" fill="#000"  >0</text>
<text transform="translate(53.23,382.00) scale(1.2395,1.0000)" font-size="19.8" fill="#000"  >.</text>
<text transform="translate(59.52,382.00) scale(1.1618,1.0000)" font-size="19.8" fill="#000"  >0</text>
<text transform="translate(72.00,382.00) scale(0.8608,1.0000)" font-size="19.8" fill="#000"  >1</text>
<text transform="translate(130.60,398.00) scale(1.1618,1.0000)" font-size="19.8" fill="#000"  >0</text>
<text transform="translate(141.86,398.00) scale(1.2395,1.0000)" font-size="19.8" fill="#000"  >.</text>
<text transform="translate(149.28,398.00) scale(0.8608,1.0000)" font-size="19.8" fill="#000"  >1</text>
<text transform="translate(241.45,398.00) scale(0.8608,1.0000)" font-size="19.8" fill="#000"  >1</text>
<text transform="translate(336.71,398.00) scale(0.8608,1.0000)" font-size="19.8" fill="#000"  >1</text>
<text transform="translate(346.93,398.00) scale(1.1618,1.0000)" font-size="19.8" fill="#000"  >0</text>
<text transform="translate(431.98,398.00) scale(0.8608,1.0000)" font-size="19.8" fill="#000"  >1</text>
<text transform="translate(442.20,398.00) scale(1.1618,1.0000)" font-size="19.8" fill="#000"  >0</text>
<text transform="translate(453.55,398.00) scale(1.1618,1.0000)" font-size="19.8" fill="#000"  >0</text>
<text transform="translate(486.20,398.00) scale(1.1618,1.0000)" font-size="19.8" fill="#000"  >0</text>
<text transform="translate(497.46,398.00) scale(1.2395,1.0000)" font-size="19.8" fill="#000"  >.</text>
<text transform="translate(504.88,398.00) scale(0.8608,1.0000)" font-size="19.8" fill="#000"  >1</text>
<text transform="translate(597.05,398.00) scale(0.8608,1.0000)" font-size="19.8" fill="#000"  >1</text>
<text transform="translate(692.31,398.00) scale(0.8608,1.0000)" font-size="19.8" fill="#000"  >1</text>
<text transform="translate(702.53,398.00) scale(1.1618,1.0000)" font-size="19.8" fill="#000"  >0</text>
<text transform="translate(787.58,398.00) scale(0.8608,1.0000)" font-size="19.8" fill="#000"  >1</text>
<text transform="translate(797.80,398.00) scale(1.1618,1.0000)" font-size="19.8" fill="#000"  >0</text>
<text transform="translate(809.15,398.00) scale(1.1618,1.0000)" font-size="19.8" fill="#000"  >0</text>
<g transform="translate(203.6,430.2) scale(1.0)"><path d="M0.2 -11.7H4.3V-0.8H7V0H0V-0.8H2.2V-10.8H0.2Z" fill="#000"/><path d="M4.2 -7.6C4.8 -10.0 6.3 -11.5 8.2 -11.3" fill="none" stroke="#000" stroke-width="1.15"/><circle cx="9.25" cy="-10.0" r="1.55" fill="#000"/></g>
<text transform="translate(215.92,436.60) scale(0.8543,0.7748)" font-size="20" fill="#000"   stroke="#000" stroke-width="0.15">p</text>
<path d="M244.45 410.9H239.30V433.9H244.45" fill="none" stroke="#000" stroke-width="1.4"/>
<text transform="translate(247.56,430.00) scale(0.9386,1.2905)" font-size="20" fill="#000"   stroke="#000" stroke-width="0.25">M</text>
<text transform="translate(265.63,429.54) scale(1.4556,1.2352)" font-size="20" fill="#000"  >p</text>
<text transform="translate(281.10,430.05) scale(1.4493,1.2891)" font-size="20" fill="#000"  >c</text>
<line x1="296.30" y1="434.3" x2="309.70" y2="411.0" stroke="#000" stroke-width="1.3"/>
<text transform="translate(311.57,430.10) scale(1.4862,1.2496)" font-size="20" fill="#000"  >h</text>
<path d="M329.00 410.9H334.60V433.9H329.00" fill="none" stroke="#000" stroke-width="1.4"/>
<g transform="translate(559.2,430.2) scale(1.0)"><path d="M0.2 -11.7H4.3V-0.8H7V0H0V-0.8H2.2V-10.8H0.2Z" fill="#000"/><path d="M4.2 -7.6C4.8 -10.0 6.3 -11.5 8.2 -11.3" fill="none" stroke="#000" stroke-width="1.15"/><circle cx="9.25" cy="-10.0" r="1.55" fill="#000"/></g>
<text transform="translate(571.52,436.60) scale(0.8543,0.7748)" font-size="20" fill="#000"   stroke="#000" stroke-width="0.15">p</text>
<path d="M600.05 410.9H594.90V433.9H600.05" fill="none" stroke="#000" stroke-width="1.4"/>
<text transform="translate(603.16,430.00) scale(0.9386,1.2905)" font-size="20" fill="#000"   stroke="#000" stroke-width="0.25">M</text>
<text transform="translate(621.23,429.54) scale(1.4556,1.2352)" font-size="20" fill="#000"  >p</text>
<text transform="translate(636.70,430.05) scale(1.4493,1.2891)" font-size="20" fill="#000"  >c</text>
<line x1="651.90" y1="434.3" x2="665.30" y2="411.0" stroke="#000" stroke-width="1.3"/>
<text transform="translate(667.17,430.10) scale(1.4862,1.2496)" font-size="20" fill="#000"  >h</text>
<path d="M684.60 410.9H690.20V433.9H684.60" fill="none" stroke="#000" stroke-width="1.4"/>
<g transform="translate(23.0,245.9) rotate(-90)">
<text transform="translate(-0.71,0.08) scale(1.1916,1.1325)" font-size="20" fill="#000" font-style="italic" >σ</text>
<line x1="14.2" y1="5.0" x2="28.6" y2="-18.5" stroke="#000" stroke-width="1.3"/>
<text transform="translate(30.18,-0.04) scale(1.1510,1.2267)" font-size="20" fill="#000"  >w</text>
<text transform="translate(48.13,7.47) scale(0.8430,0.7821)" font-size="20" fill="#000"   stroke="#000" stroke-width="0.15">p</text>
<path d="M64.4 -18.9Q54.8 -7 64.4 4.9" fill="none" stroke="#000" stroke-width="1.3"/>
<g transform="translate(68.3,0) scale(0.95)"><path d="M0.2 -11.7H4.3V-0.8H7V0H0V-0.8H2.2V-10.8H0.2Z" fill="#000"/><path d="M4.2 -7.6C4.8 -10.0 6.3 -11.5 8.2 -11.3" fill="none" stroke="#000" stroke-width="1.15"/><circle cx="9.25" cy="-10.0" r="1.55" fill="#000"/></g>
<text transform="translate(80.43,7.47) scale(0.8430,0.7821)" font-size="20" fill="#000"   stroke="#000" stroke-width="0.15">p</text>
<path d="M91.6 -18.9Q101.2 -7 91.6 4.9" fill="none" stroke="#000" stroke-width="1.3"/>
</g>
<text transform="translate(163.41,55.60) scale(1.2147,1.04)" font-size="15.3" fill="#000"  stroke="#000" stroke-width="0.22" >mock</text>
<text transform="translate(212.42,55.60) scale(1.3959,1.04)" font-size="15.3" fill="#000"  stroke="#000" stroke-width="0.22" >errors</text>
<text transform="translate(519.01,55.60) scale(0.9344,1.04)" font-size="15.3" fill="#000"  stroke="#000" stroke-width="0.3" >CMASS</text>
<text transform="translate(170.41,80.10) scale(1.2294,1.0)" font-size="15.3" fill="#f00"  stroke="#f00" stroke-width="0.4" >50</text>
<text transform="translate(196.63,80.10) scale(1.1484,1.0)" font-size="15.3" fill="#f00"  stroke="#f00" stroke-width="0.4" >J</text>
<text transform="translate(204.35,80.10) scale(0.8037,1.0)" font-size="15.3" fill="#f00"  stroke="#f00" stroke-width="0.4" >K</text>
<text transform="translate(220.50,80.10) scale(1.2720,1.04)" font-size="15.3" fill="#f00"  stroke="#f00" stroke-width="0.22" >samples</text>
<text transform="translate(164.80,105.10) scale(1.1131,1.0)" font-size="15.3" fill="#f0f"  stroke="#f0f" stroke-width="0.4" >100</text>
<text transform="translate(198.43,105.10) scale(1.1484,1.0)" font-size="15.3" fill="#f0f"  stroke="#f0f" stroke-width="0.4" >J</text>
<text transform="translate(206.05,105.10) scale(0.8037,1.0)" font-size="15.3" fill="#f0f"  stroke="#f0f" stroke-width="0.4" >K</text>
<text transform="translate(222.10,105.10) scale(1.2700,1.04)" font-size="15.3" fill="#f0f"  stroke="#f0f" stroke-width="0.22" >samples</text>
<text transform="translate(164.48,129.90) scale(1.1274,1.0)" font-size="15.3" fill="#0f0"  stroke="#0f0" stroke-width="0.4" >150</text>
<text transform="translate(198.43,129.90) scale(1.1484,1.0)" font-size="15.3" fill="#0f0"  stroke="#0f0" stroke-width="0.4" >J</text>
<text transform="translate(206.05,129.90) scale(0.8037,1.0)" font-size="15.3" fill="#0f0"  stroke="#0f0" stroke-width="0.4" >K</text>
<text transform="translate(222.10,129.90) scale(1.2700,1.04)" font-size="15.3" fill="#0f0"  stroke="#0f0" stroke-width="0.22" >samples</text>
<text transform="translate(163.82,154.75) scale(1.1570,1.0)" font-size="15.3" fill="#00f"  stroke="#00f" stroke-width="0.4" >200</text>
<text transform="translate(198.43,154.75) scale(1.1484,1.0)" font-size="15.3" fill="#00f"  stroke="#00f" stroke-width="0.4" >J</text>
<text transform="translate(206.05,154.75) scale(0.8037,1.0)" font-size="15.3" fill="#00f"  stroke="#00f" stroke-width="0.4" >K</text>
<text transform="translate(222.10,154.75) scale(1.2700,1.04)" font-size="15.3" fill="#00f"  stroke="#00f" stroke-width="0.22" >samples</text>
<text transform="translate(525.91,80.10) scale(1.2294,1.0)" font-size="15.3" fill="#f00"  stroke="#f00" stroke-width="0.4" >50</text>
<text transform="translate(552.13,80.10) scale(1.1484,1.0)" font-size="15.3" fill="#f00"  stroke="#f00" stroke-width="0.4" >J</text>
<text transform="translate(559.85,80.10) scale(0.8037,1.0)" font-size="15.3" fill="#f00"  stroke="#f00" stroke-width="0.4" >K</text>
<text transform="translate(576.00,80.10) scale(1.2720,1.04)" font-size="15.3" fill="#f00"  stroke="#f00" stroke-width="0.22" >samples</text>
<text transform="translate(520.30,105.10) scale(1.1131,1.0)" font-size="15.3" fill="#f0f"  stroke="#f0f" stroke-width="0.4" >100</text>
<text transform="translate(553.93,105.10) scale(1.1484,1.0)" font-size="15.3" fill="#f0f"  stroke="#f0f" stroke-width="0.4" >J</text>
<text transform="translate(561.55,105.10) scale(0.8037,1.0)" font-size="15.3" fill="#f0f"  stroke="#f0f" stroke-width="0.4" >K</text>
<text transform="translate(577.60,105.10) scale(1.2700,1.04)" font-size="15.3" fill="#f0f"  stroke="#f0f" stroke-width="0.22" >samples</text>
<text transform="translate(519.98,129.90) scale(1.1274,1.0)" font-size="15.3" fill="#0f0"  stroke="#0f0" stroke-width="0.4" >150</text>
<text transform="translate(553.93,129.90) scale(1.1484,1.0)" font-size="15.3" fill="#0f0"  stroke="#0f0" stroke-width="0.4" >J</text>
<text transform="translate(561.55,129.90) scale(0.8037,1.0)" font-size="15.3" fill="#0f0"  stroke="#0f0" stroke-width="0.4" >K</text>
<text transform="translate(577.60,129.90) scale(1.2700,1.04)" font-size="15.3" fill="#0f0"  stroke="#0f0" stroke-width="0.22" >samples</text>
<text transform="translate(519.32,154.75) scale(1.1570,1.0)" font-size="15.3" fill="#00f"  stroke="#00f" stroke-width="0.4" >200</text>
<text transform="translate(553.93,154.75) scale(1.1484,1.0)" font-size="15.3" fill="#00f"  stroke="#00f" stroke-width="0.4" >J</text>
<text transform="translate(561.55,154.75) scale(0.8037,1.0)" font-size="15.3" fill="#00f"  stroke="#00f" stroke-width="0.4" >K</text>
<text transform="translate(577.60,154.75) scale(1.2700,1.04)" font-size="15.3" fill="#00f"  stroke="#00f" stroke-width="0.22" >samples</text>
</g>
</svg>
</body></html>
